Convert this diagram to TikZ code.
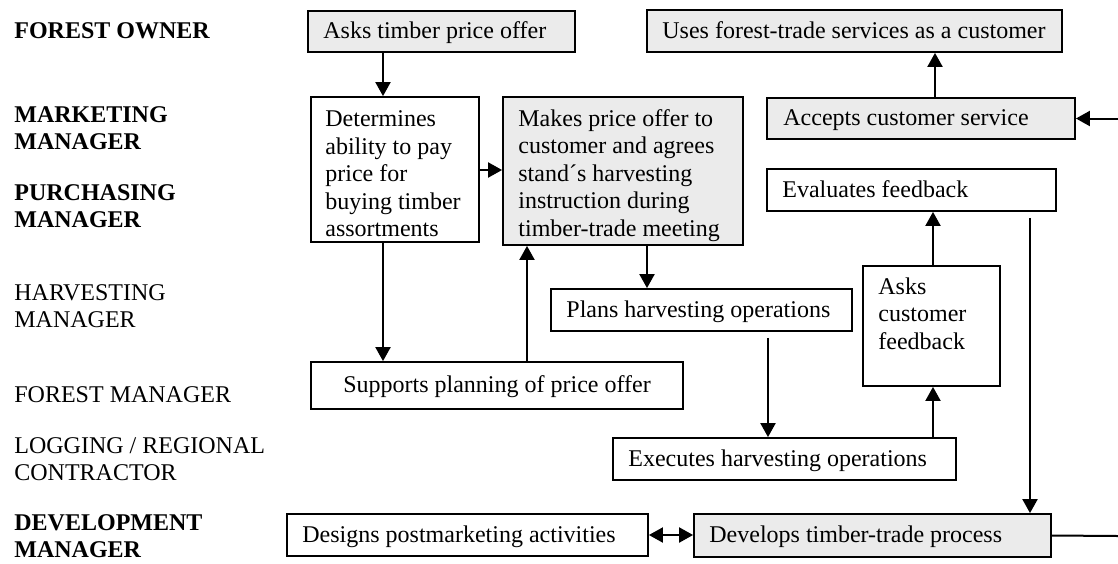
\documentclass[tikz,border=0pt]{standalone}
\usepackage{fontspec}
\setmainfont{Liberation Serif}
\usetikzlibrary{arrows.meta}

% A box given by its corners (x1,y1) and (x2,y2): \panel{style}{x1}{y1}{x2}{y2}{name}
\newcommand\panel[6]{%
  \node[#1, minimum width={(#4-#2)*0.5pt}, minimum height={(#5-#3)*0.5pt}]
    (#6) at ({(#2+#4)/2},{(#3+#5)/2}) {};}

\begin{document}
\begin{tikzpicture}[x=0.5pt, y=-0.5pt,
  frame/.style={draw, line width=0.9pt, inner sep=0pt},
  shaded/.style={frame, fill=black!8},
  plain/.style={frame, fill=white},
  % multi-line texts are placed by the baseline of their last line
  txt/.style={anchor=base west, inner sep=0pt, font=\fontsize{12}{13.7}\selectfont, align=left},
  role/.style={anchor=base west, inner sep=0pt, font=\fontsize{12}{13.3}\selectfont, align=left},
  boldrole/.style={role, font=\bfseries\fontsize{12}{13.3}\selectfont},
  flow/.style={line width=1pt, -{Triangle[length=7pt, width=7.5pt]}},
  twoway/.style={line width=1pt, {Triangle[length=7pt, width=7.5pt]}-{Triangle[length=7pt, width=7.5pt]}},
  link/.style={line width=1pt}]

\useasboundingbox (0,0) rectangle (1118,563);

% roles, one per row
\node[boldrole] (r1) at (14,38) {FOREST OWNER};
\node[boldrole] (r2) at (14,149) {MARKETING\\MANAGER};
\node[boldrole] (r3) at (14,227) {PURCHASING\\MANAGER};
\node[role] (r4) at (14,327) {HARVESTING\\MANAGER};
\node[role] (r5) at (14,402) {FOREST MANAGER};
\node[role] (r6) at (14,480) {LOGGING / REGIONAL\\CONTRACTOR};
\node[boldrole] (r7) at (14,557) {DEVELOPMENT\\MANAGER};

% activity boxes
\panel{shaded}{308}{11}{575}{52}{ask}
\panel{shaded}{647}{10}{1062}{52}{uses}
\panel{plain}{311}{97}{479}{242}{det}
\panel{shaded}{503}{97}{743}{245}{mk}
\panel{shaded}{767}{98}{1075}{139}{acc}
\panel{plain}{767}{169}{1056}{211}{eval}
\panel{plain}{551}{289}{852}{331}{plan}
\panel{plain}{863}{266}{1000}{386}{acf}
\panel{plain}{311}{362}{683}{409}{sup}
\panel{plain}{613}{438}{956}{480}{exec}
\panel{plain}{287}{514}{648}{556}{des}
\panel{shaded}{694}{514}{1051}{557}{dev}

% box texts
\node[txt] (ask-t) at (323,38.5) {Asks timber price offer};
\node[txt] (uses-t) at (662,38) {Uses forest-trade services as a customer};
\node[txt] (det-t) at (325,236.5) {Determines\\ability to pay\\price for\\buying timber\\assortments};
\node[txt] (mk-t) at (518,236) {Makes price offer to\\customer and agrees\\stand´s harvesting\\instruction during\\timber-trade meeting};
\node[txt] (acc-t) at (783,125.5) {Accepts customer service};
\node[txt] (eval-t) at (782,197) {Evaluates feedback};
\node[txt] (plan-t) at (566,317) {Plans harvesting operations};
\node[txt] (acf-t) at (878,349) {Asks\\customer\\feedback};
\node[txt, anchor=base] (sup-t) at (497,392.5) {Supports planning of price offer};
\node[txt] (exec-t) at (628,466) {Executes harvesting operations};
\node[txt] (des-t) at (302,542) {Designs postmarketing activities};
\node[txt] (dev-t) at (709,542.5) {Develops timber-trade process};

% loose ends at the right margin
\coordinate (eastIn) at (1118,118.5);
\coordinate (eastOut) at (1118,536);

% connectors
\draw[flow] (ask.south -| 383,0) -- (det.north -| 383,0);
\draw[flow] (det.east |- 0,170) -- (mk.west |- 0,170);
\draw[flow] (det.south -| 383,0) -- (sup.north -| 383,0);
\draw[flow] (sup.north -| 527,0) -- (mk.south -| 527,0);
\draw[flow] (mk.south -| 647,0) -- (plan.north -| 647,0);
\draw[flow, shorten <=3pt] (plan.south -| 768,0) -- (exec.north -| 768,0);
\draw[flow] (exec.north -| 933,0) -- (acf.south -| 933,0);
\draw[flow] (acf.north -| 933,0) -- (eval.south -| 933,0);
\draw[flow, shorten <=3pt] (eval.south -| 1030,0) -- (dev.north -| 1030,0);
\draw[flow] (acc.north -| 935,0) -- (uses.south -| 935,0);
\draw[twoway] (des.east) -- (des.east -| dev.west);
\draw[link] (dev.east) -- (eastOut);
\draw[flow] (eastIn) -- (acc.east);

\end{tikzpicture}
\end{document}
